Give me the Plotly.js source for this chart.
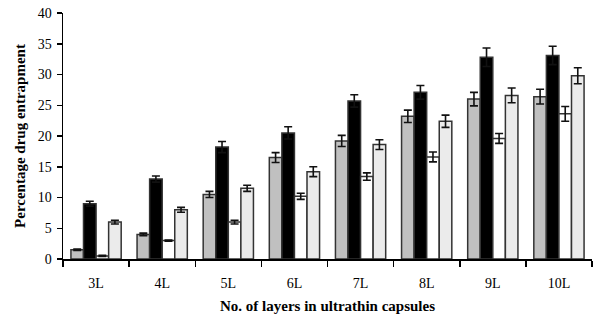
<!DOCTYPE html>
<html><head><meta charset="utf-8">
<script src="https://cdn.plot.ly/plotly-3.0.1.min.js"></script>
<style>html,body{margin:0;padding:0;background:#fff}</style>
</head><body>
<div id="chart" style="width:596px;height:317px"></div>
<script>
const categories = ["3L","4L","5L","6L","7L","8L","9L","10L"];
const seriesA = [1.5, 4.0, 10.5, 16.5, 19.2, 23.2, 26.0, 26.4];
const errA    = [0.1, 0.2, 0.5, 0.8, 0.9, 1.0, 1.1, 1.2];
const seriesB = [9.0, 13.0, 18.2, 20.5, 25.7, 27.1, 32.8, 33.1];
const errB    = [0.4, 0.5, 0.9, 1.0, 1.0, 1.1, 1.5, 1.5];
const seriesC = [0.5, 3.0, 6.0, 10.2, 13.4, 16.6, 19.6, 23.6];
const errC    = [0.1, 0.1, 0.3, 0.5, 0.6, 0.8, 0.8, 1.2];
const seriesD = [6.0, 8.0, 11.5, 14.2, 18.6, 22.4, 26.6, 29.8];
const errD    = [0.3, 0.4, 0.5, 0.8, 0.8, 1.0, 1.2, 1.3];

function tr(y, e, fill, pattern){
  const m = {color: fill, line:{color:'#333', width:1.5}};
  if (pattern) m.pattern = pattern;
  return {type:'bar', x:categories, y:y, marker:m,
    error_y:{type:'data', array:e, visible:true, color:'#111', thickness:1.6, width:4}};
}
const data = [
  tr(seriesA, errA, '#c0c0c0'),
  tr(seriesB, errB, '#000000'),
  tr(seriesC, errC, '#ffffff'),
  tr(seriesD, errD, '#f2f2f2', {shape:'-', size:2, fgcolor:'#dedede', bgcolor:'#f3f3f3', solidity:0.4})
];
const fam = '"Liberation Serif", "Times New Roman", serif';
const layout = {
  width:596, height:317,
  margin:{l:63, r:4, t:13, b:58},
  paper_bgcolor:'#fff', plot_bgcolor:'#fff',
  showlegend:false,
  barmode:'group', bargap:0.24, bargroupgap:0,
  font:{family:fam, color:'#000', size:14},
  xaxis:{
    showline:true, linecolor:'#000', linewidth:1.5,
    ticks:'outside', tickson:'boundaries', ticklen:6, tickwidth:1.5, tickcolor:'#000',
    ticklabelstandoff:11,
    tickfont:{family:fam, size:14, color:'#000'},
    showgrid:false, zeroline:false,
    title:{text:'<b>No. of layers in ultrathin capsules</b>', font:{family:fam, size:15, color:'#000'}, standoff:10}
  },
  yaxis:{
    range:[0,40], dtick:5,
    showline:true, linecolor:'#000', linewidth:1.5,
    ticks:'outside', ticklen:5, tickwidth:1.5, tickcolor:'#000',
    ticklabelstandoff:2,
    tickfont:{family:fam, size:14, color:'#000'},
    showgrid:false, zeroline:false,
    title:{text:'<b>Percentage drug entrapment</b>', font:{family:fam, size:15, color:'#000'}, standoff:8}
  }
};
Plotly.newPlot('chart', data, layout, {displayModeBar:false, staticPlot:true});
</script>
</body></html>
